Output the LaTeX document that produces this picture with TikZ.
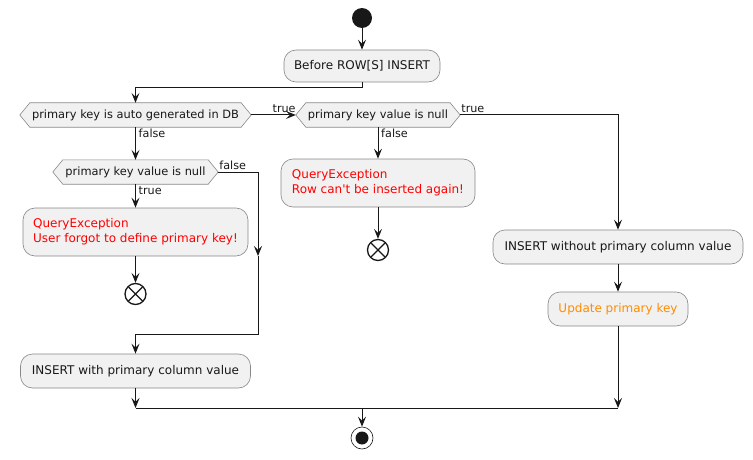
\documentclass[tikz,border=0pt]{standalone}
\usepackage{fontspec}
\setmainfont{DejaVu Sans}
\usetikzlibrary{arrows.meta}
\definecolor{boxfill}{HTML}{F1F1F1}
\definecolor{boxline}{HTML}{888888}
\definecolor{ink}{HTML}{181818}
\definecolor{errred}{HTML}{FF0000}
\definecolor{warnorange}{HTML}{FF8C00}
\begin{document}
\begin{tikzpicture}[x=1pt,y=-1pt,
  act/.style={draw=boxline, fill=boxfill, line width=0.6pt, rounded corners=12pt,
    font=\fontsize{12}{15}\selectfont, text=ink, inner xsep=10pt, inner ysep=0pt, align=left},
  cond/.style={inner sep=0pt, minimum height=24pt, font=\fontsize{11.4}{13}\selectfont, text=ink},
  lbl/.style={font=\fontsize{11.2}{13}\selectfont, text=ink, inner sep=1pt},
  flow/.style={draw=ink, line width=1pt, -{Stealth[length=10pt,width=8pt,inset=4pt]}},
  plain/.style={draw=ink, line width=1pt},
  startdot/.style={circle, fill=ink, draw=none, minimum size=20pt, inner sep=0pt},
  crossend/.style={circle, draw=ink, line width=1.3pt, fill=white, minimum size=21pt, inner sep=0pt,
    path picture={\draw[ink, line width=1.3pt]
      ([shift={(-7pt,-7pt)}]path picture bounding box.center) -- ([shift={(7pt,7pt)}]path picture bounding box.center)
      ([shift={(-7pt,7pt)}]path picture bounding box.center) -- ([shift={(7pt,-7pt)}]path picture bounding box.center);}},
  stopend/.style={circle, draw=ink, line width=0.6pt, fill=white, minimum size=22pt, inner sep=0pt,
    path picture={\fill[ink] (path picture bounding box.center) circle (6.5pt);}}
]
\useasboundingbox (0,0) rectangle (753,460);

% nodes
\node[startdot] (start) at (362,18) {};
\node[act, minimum width=156pt, minimum height=32pt] (before) at (362,66) {Before ROW[S] INSERT};

\node[cond, minimum width=231pt] (d1) at (135.5,115) {};
\node[cond, minimum width=164pt] (d2) at (378,115) {};
\node[cond, minimum width=165pt] (d3) at (135.5,172) {};

\foreach \d in {d1,d2,d3}{
  \draw[draw=boxline, fill=boxfill, line width=0.6pt]
    (\d.west) -- ([xshift=10pt]\d.north west) -- ([xshift=-10pt]\d.north east) -- (\d.east)
    -- ([xshift=-10pt]\d.south east) -- ([xshift=10pt]\d.south west) -- cycle;
}
\node[cond] (t1) at (d1.center) {primary key is auto generated in DB};
\node[cond] (t2) at (d2.center) {primary key value is null};
\node[cond] (t3) at (d3.center) {primary key value is null};

\node[act, minimum width=194pt, minimum height=48pt, text=errred] (err2) at (378,183)
  {QueryException\\Row can\textquotesingle t be inserted again!};
\node[crossend] (end2) at (378,250) {};

\node[act, minimum width=225pt, minimum height=48pt, text=errred] (err1) at (135.5,232)
  {QueryException\\User forgot to define primary key!};
\node[crossend] (end1) at (135.5,294) {};

\node[act, minimum width=230pt, minimum height=34pt] (ins1) at (135.5,371) {INSERT with primary column value};
\node[act, minimum width=250pt, minimum height=34pt] (ins2) at (618,247) {INSERT without primary column value};
\node[act, minimum width=140pt, minimum height=34pt, text=warnorange] (upd) at (618,309) {Update primary key};

\node[stopend] (stop) at (362,438) {};

% junction coordinates
\coordinate (j0) at (362,88);
\coordinate (jr) at (618,115);
\coordinate (jf1) at (258,172);
\coordinate (jf2) at (258,256);
\coordinate (jf3) at (258,334);
\coordinate (jbL) at (135.5,408);
\coordinate (jbM) at (362,408);
\coordinate (jbR) at (618,408);

% connectors
\draw[flow] (start) -- (before);
\draw[flow] (before.south) -- (j0) -| (d1.north);
\draw[flow] (d1.east) -- (d2.west);
\node[lbl, anchor=south east] at ([xshift=1pt,yshift=1pt]d2.west) {true};
\draw[flow] (d2.east) -- (jr) -- (ins2.north);
\node[lbl, anchor=south west] at ([yshift=1pt]d2.east) {true};
\draw[flow] (d2.south) -- (err2.north);
\node[lbl, anchor=north west] at ([xshift=2pt,yshift=-1pt]d2.south) {false};
\draw[flow] (err2.south) -- (end2.north);

\draw[flow] (d1.south) -- (d3.north);
\node[lbl, anchor=north west] at ([xshift=2pt,yshift=-1pt]d1.south) {false};
\draw[flow] (d3.south) -- (err1.north);
\node[lbl, anchor=north west] at ([xshift=2pt,yshift=-1pt]d3.south) {true};
\draw[flow] (err1.south) -- (end1.north);
\draw[flow] (d3.east) -- (jf1) -- (jf2);
\node[lbl, anchor=south west] at ([yshift=1pt]d3.east) {false};
\draw[flow] (jf2) -- (jf3) -| (ins1.north);

\draw[flow] (ins1.south) -- (jbL);
\draw[flow] (ins2.south) -- (upd.north);
\draw[flow] (upd.south) -- (jbR);
\draw[plain] (jbL) -- (jbR);
\draw[flow] (jbM) -- (stop.north);
\end{tikzpicture}
\end{document}
